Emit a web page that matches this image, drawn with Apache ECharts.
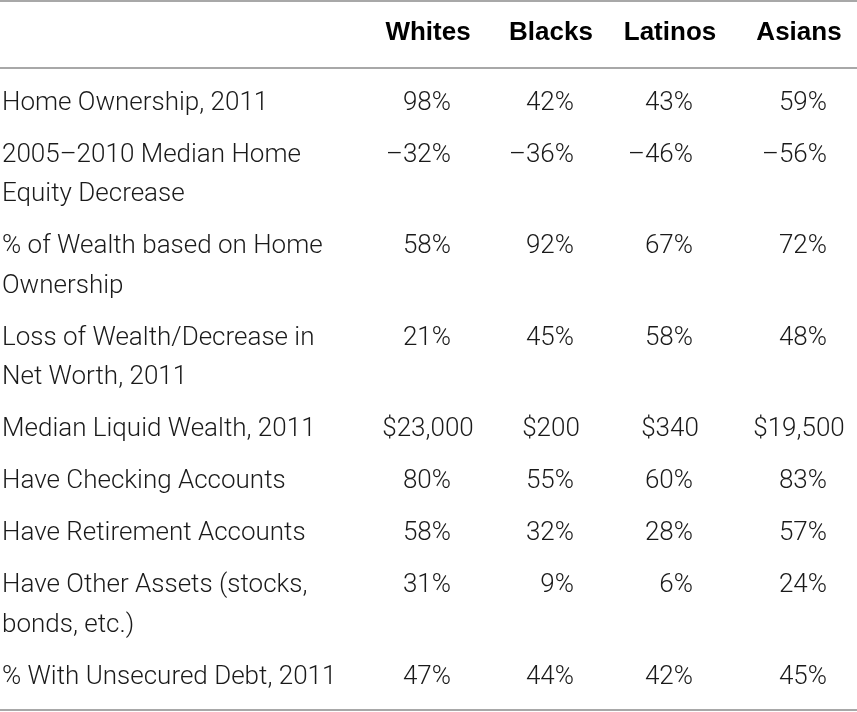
<!DOCTYPE html>
<html>
<head>
<meta charset="utf-8">
<script src="https://cdn.jsdelivr.net/npm/echarts@6/dist/echarts.min.js"></script>
<style>html,body{margin:0;padding:0;background:#fff}#c{width:857px;height:712px}</style>
</head>
<body>
<div id="c"></div>
<script>
// ---- data ----
const columns = ['Whites', 'Blacks', 'Latinos', 'Asians'];
const rowLabels = [
  ['Home Ownership, 2011'],
  ['2005\u20132010 Median Home', 'Equity Decrease'],
  ['% of Wealth based on Home', 'Ownership'],
  ['Loss of Wealth/Decrease in', 'Net Worth, 2011'],
  ['Median Liquid Wealth, 2011'],
  ['Have Checking Accounts'],
  ['Have Retirement Accounts'],
  ['Have Other Assets (stocks,', 'bonds, etc.)'],
  ['% With Unsecured Debt, 2011']
];
const whites  = ['98%', '\u201332%', '58%', '21%', '$23,000', '80%', '58%', '31%', '47%'];
const blacks  = ['42%', '\u201336%', '92%', '45%', '$200',    '55%', '32%', '9%',  '44%'];
const latinos = ['43%', '\u201346%', '67%', '58%', '$340',    '60%', '28%', '6%',  '42%'];
const asians  = ['59%', '\u201356%', '72%', '48%', '$19,500', '83%', '57%', '24%', '45%'];
const valueCols = [whites, blacks, latinos, asians];

// ---- layout (pixel-like axis units) ----
const W = 857, H = 712;
const labelX = 2;
const colCenter = [428, 551, 670, 799];
const colPctRight = [451, 574, 693, 827];
const headerY = 33;
const firstRowY = 103;
const rowGap = 52;
const lineGap = 39.5;
const ruleYs = [1, 68, 710];

const bodyFont = { fontFamily: 'Roboto', fontWeight: 300, fontSize: 26 };
const headFont = { fontFamily: 'Liberation Sans', fontWeight: 'bold', fontSize: 26 };

// compute row y positions from line counts
const rowY = [];
let y = firstRowY;
rowLabels.forEach((lines, i) => {
  rowY.push(y);
  y += (lines.length - 1) * lineGap + rowGap;
});

const chart = echarts.init(document.getElementById('c'), null, { renderer: 'canvas' });

function txt(x, yy, text, align, font, color) {
  return {
    type: 'text',
    style: Object.assign({
      x: x, y: yy, text: text, align: align, verticalAlign: 'middle',
      fill: color || '#1a1a1a'
    }, font)
  };
}

const option = {
  animation: false,
  grid: { left: 0, right: 0, top: 0, bottom: 0 },
  xAxis: { type: 'value', min: 0, max: W, show: false },
  yAxis: { type: 'value', min: 0, max: H, inverse: true, show: false },
  series: [
    {
      // horizontal rules
      type: 'custom',
      coordinateSystem: 'cartesian2d',
      data: ruleYs.map(v => [0, v]),
      renderItem: function (params, api) {
        const p0 = api.coord([0, api.value(1)]);
        const p1 = api.coord([W, api.value(1)]);
        return {
          type: 'line',
          shape: { x1: p0[0], y1: p0[1], x2: p1[0], y2: p1[1] },
          style: { stroke: '#a8a8a8', lineWidth: 2 }
        };
      }
    },
    {
      // header row
      type: 'custom',
      coordinateSystem: 'cartesian2d',
      data: columns.map((c, i) => [colCenter[i], headerY, i]),
      renderItem: function (params, api) {
        const p = api.coord([api.value(0), api.value(1)]);
        return txt(p[0], p[1], columns[params.dataIndex], 'center', headFont, '#000');
      }
    },
    {
      // body rows
      type: 'custom',
      coordinateSystem: 'cartesian2d',
      data: rowLabels.map((l, i) => [labelX, rowY[i], i]),
      renderItem: function (params, api) {
        const r = params.dataIndex;
        const children = [];
        rowLabels[r].forEach((line, k) => {
          const p = api.coord([labelX, rowY[r] + k * lineGap]);
          children.push(txt(p[0], p[1], line, 'left', bodyFont));
        });
        valueCols.forEach((col, c) => {
          const v = col[r];
          const isMoney = v.charAt(0) === '$';
          const xx = isMoney ? colCenter[c] : colPctRight[c];
          const p = api.coord([xx, rowY[r]]);
          children.push(txt(p[0], p[1], v, isMoney ? 'center' : 'right', bodyFont));
        });
        return { type: 'group', children: children };
      }
    }
  ]
};
chart.setOption(option);
</script>
</body>
</html>
